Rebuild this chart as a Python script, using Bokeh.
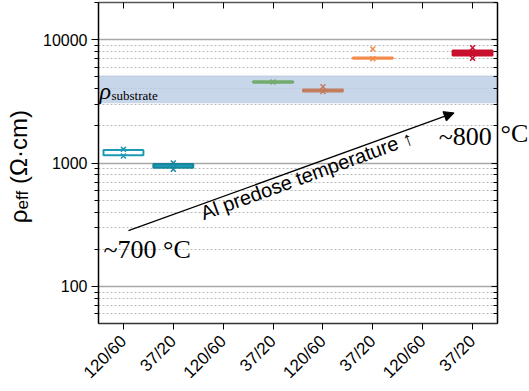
import math
from bokeh.plotting import figure
from bokeh.layouts import row
from bokeh.models import (FixedTicker, LogAxis, LinearAxis, Label, Arrow, NormalHead,
                          ColumnDataSource)
from bokeh.embed import file_html
from bokeh.resources import INLINE

# ---------------- data ----------------
positions = [1, 2, 3, 4, 5, 6, 7, 8]
tick_labels = ["120/60", "37/20", "120/60", "37/20", "120/60", "37/20", "120/60", "37/20"]

box_x = [1, 2, 4, 5, 6, 8]
box_low = [1153, 916, 4470, 3800, 7000, 7450]
box_high = [1273, 981, 4590, 3950, 7150, 8150]
box_fill = ["white", "#1b9ab4", "#72ab6e", "#c27c5e", "#f28b4b", "#c8102e"]
box_line = ["#1c9ab5", "#17869c", "#72ab6e", "#c27c5e", "#f28b4b", "#c8102e"]

pt_x = [1, 1, 2, 2, 4, 5, 5, 6, 6, 8, 8, 8]
pt_y = [1290, 1140, 1000, 890, 4530, 4150, 3800, 8400, 7000, 8600, 7900, 7050]
pt_color = ["#1c9ab5", "#1c9ab5", "#17869c", "#17869c", "#72ab6e", "#c27c5e", "#c27c5e",
            "#f28b4b", "#f28b4b", "#c8102e", "#c8102e", "#c8102e"]

substrate_low = 3050
substrate_high = 5130

major_y = [100, 1000, 10000]
minor_y = [60, 70, 80, 90] + [m * 100 for m in range(2, 10)] + [m * 1000 for m in range(2, 10)] + [20000]


def blank_fig(w):
    f = figure(width=w, height=391, x_range=(0, w), y_range=(0, 391), output_backend="svg",
               toolbar_location=None, x_axis_location=None, y_axis_location=None,
               min_border=0, min_border_left=0, min_border_right=0, min_border_top=0,
               min_border_bottom=0)
    f.outline_line_color = None
    f.xgrid.grid_line_color = None
    f.ygrid.grid_line_color = None
    return f


# ---------------- main figure ----------------
p = figure(width=460, height=391, y_axis_type="log", x_range=(0.5, 8.5), y_range=(50, 20000),
           output_backend="svg", toolbar_location=None,
           min_border_left=56, min_border_right=3, min_border_top=2, min_border_bottom=67)
p.outline_line_color = "#555555"
p.background_fill_color = "white"
p.border_fill_color = "white"

yt = FixedTicker(ticks=major_y, minor_ticks=minor_y)
p.yaxis.ticker = yt
p.yaxis.major_label_overrides = {100: "100", 1000: "1000", 10000: "10000"}
p.yaxis.major_label_text_font = "Liberation Sans"
p.yaxis.major_label_text_font_size = "16px"
p.yaxis.major_label_text_color = "black"
p.yaxis.axis_line_color = "black"
p.yaxis.axis_line_width = 1.5
p.yaxis.major_tick_out = 7
p.yaxis.major_tick_in = 0
p.yaxis.minor_tick_out = 4
p.yaxis.minor_tick_in = 0
p.yaxis.major_tick_line_color = "black"
p.yaxis.minor_tick_line_color = "black"
p.yaxis.major_label_standoff = 4

p.xaxis.ticker = FixedTicker(ticks=positions)
p.xaxis.major_label_overrides = {pos: lab for pos, lab in zip(positions, tick_labels)}
p.xaxis.major_label_orientation = math.pi / 4
p.xaxis.major_label_text_font = "Liberation Sans"
p.xaxis.major_label_text_font_size = "17px"
p.xaxis.major_label_text_color = "black"
p.xaxis.axis_line_color = "#333333"
p.xaxis.axis_line_width = 1.5
p.xaxis.major_tick_out = 6
p.xaxis.major_tick_in = 0
p.xaxis.minor_tick_line_color = None
p.xaxis.major_label_standoff = 9

right = LogAxis(ticker=yt, major_label_text_font_size="1px", major_label_text_alpha=0,
                major_tick_in=6, major_tick_out=0,
                minor_tick_in=4, minor_tick_out=0, axis_line_color="black", axis_line_width=1.5,
                major_label_standoff=0)
p.add_layout(right, "right")
top = LinearAxis(ticker=FixedTicker(ticks=positions), major_label_text_font_size="1px",
                 major_label_text_alpha=0,
                 major_tick_in=6, major_tick_out=0, minor_tick_line_color=None,
                 axis_line_color="#555555", axis_line_width=1.5, major_label_standoff=0)
p.add_layout(top, "above")

p.xgrid.grid_line_color = None
p.ygrid.ticker = yt
p.ygrid.grid_line_color = "#a8a8a8"
p.ygrid.grid_line_width = 1.5
p.ygrid.minor_grid_line_color = "#b8b8b8"
p.ygrid.minor_grid_line_dash = "2 2"
p.ygrid.minor_grid_line_width = 1

# substrate band
p.quad(left=[0.5], right=[8.5], bottom=[substrate_low], top=[substrate_high],
       fill_color="#bacce5", fill_alpha=0.8, line_color=None)

# boxes
src = ColumnDataSource(dict(left=[x - 0.4 for x in box_x], right=[x + 0.4 for x in box_x],
                            bottom=box_low, top=box_high, fill=box_fill, line=box_line))
p.quad(left="left", right="right", bottom="bottom", top="top", fill_color="fill",
       line_color="line", line_width=2, source=src)

# points
psrc = ColumnDataSource(dict(x=pt_x, y=pt_y, c=pt_color))
p.scatter(x="x", y="y", marker="x", size=7, line_color="c", line_width=1.5, source=psrc)

# arrow and annotations
p.add_layout(Arrow(end=NormalHead(size=10, fill_color="black", line_color="black", line_width=1),
                   x_start=1.1, y_start=283, x_end=7.63, y_end=2546,
                   line_color="black", line_width=1.2))
p.add_layout(Label(x=2.56, y=388, text="Al predose temperature \u2191", angle=20, angle_units="deg",
                   text_font="Liberation Sans", text_font_size="20px", text_color="black",
                   text_align="left", text_baseline="alphabetic"))
p.add_layout(Label(x=0.6, y=199, text="~700 \u00b0C", text_font="Liberation Serif",
                   text_font_size="26px", text_color="black", text_baseline="alphabetic"))
p.add_layout(Label(x=7.32, y=1650, text="~800", text_font="Liberation Serif",
                   text_font_size="26px", text_color="black", text_baseline="alphabetic"))
p.add_layout(Label(x=0.52, y=3837, text="\u03c1", text_font="Liberation Serif",
                   text_font_style="italic", text_font_size="24px", text_color="black",
                   text_baseline="alphabetic"))
p.add_layout(Label(x=0.76, y=3500, text="substrate", text_font="Liberation Serif",
                   text_font_size="13px", text_color="black", text_baseline="alphabetic"))

# ---------------- left strip: y-axis title ----------------
left_fig = blank_fig(40)
left_fig.add_layout(Label(x=18, y=122, text="\u03c1", angle=90, angle_units="deg",
                          text_font="Liberation Sans", text_font_size="24px", text_color="black",
                          text_align="left", text_baseline="alphabetic"))
left_fig.add_layout(Label(x=22, y=139, text="eff", angle=90, angle_units="deg",
                          text_font="Liberation Sans", text_font_size="17px", text_color="black",
                          text_align="left", text_baseline="alphabetic"))
left_fig.add_layout(Label(x=18, y=170, text="(\u03a9\u00b7cm)", angle=90, angle_units="deg",
                          text_font="Liberation Sans", text_font_size="24px", text_color="black",
                          text_align="left", text_baseline="alphabetic"))

# ---------------- right strip: rest of ~800 °C ----------------
right_fig = blank_fig(29)
right_fig.add_layout(Label(x=0, y=232, text="\u00b0C", text_font="Liberation Serif",
                           text_font_size="26px", text_color="black", text_baseline="alphabetic"))

layout = row(left_fig, p, right_fig, spacing=0)
open("out.html", "w").write(file_html(layout, INLINE))
